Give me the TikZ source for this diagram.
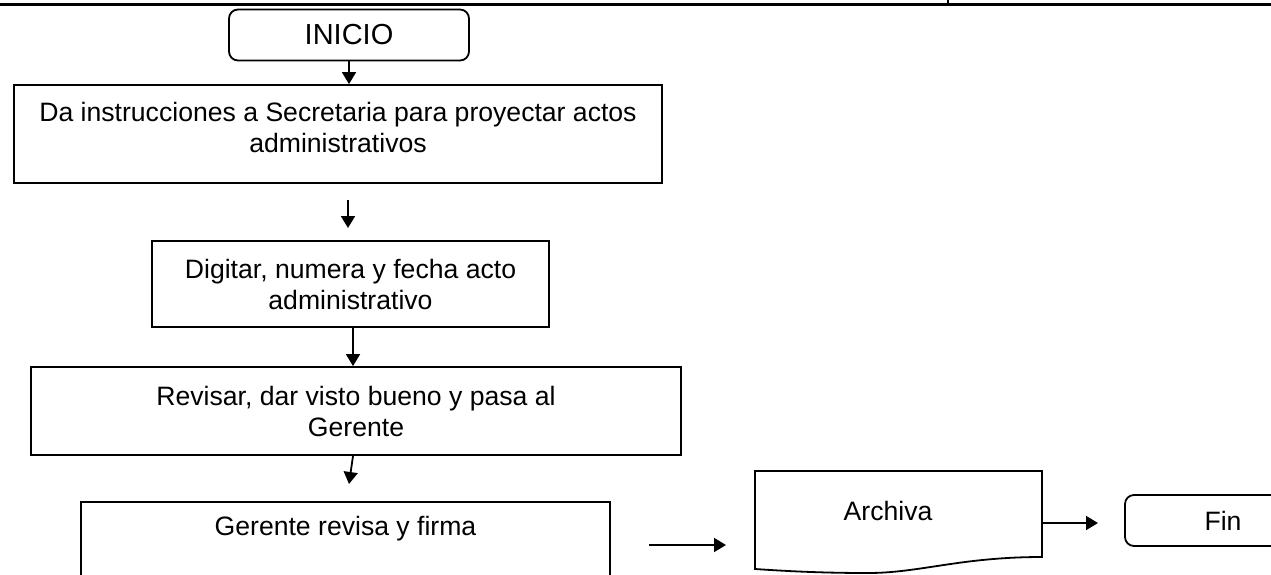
\documentclass[tikz,border=0pt]{standalone}
\usepackage{fontspec}
\setmainfont{Liberation Sans}
\usetikzlibrary{arrows.meta,positioning}
\tikzset{>={Triangle[length=12pt,width=14pt]}}
\tikzset{
  proc/.style={draw,rectangle,inner sep=0pt,align=center,font=\fontsize{26.6}{31}\selectfont},
  term/.style={proc,rounded corners=9pt},
  txt/.style={align=center,inner sep=0pt,font=\fontsize{26.6}{31}\selectfont}
}

\begin{document}
\begin{tikzpicture}[x=1pt,y=-1pt,line width=1.8pt]
		\useasboundingbox (0,0) rectangle (1271,574);
		\clip (0,0) rectangle (1271,574);
		\draw[line width=2.5pt] (0,4.4) -- (1271,4.4);% cut table rule
		\draw[line width=1.5pt] (948,0) -- (948,4.4);
		
		\node[term,minimum width=240pt,minimum height=51pt,font=\fontsize{29}{34}\selectfont] (inicio) at (349,35) {INICIO};
		\node[proc,minimum width=648pt,minimum height=98pt] (instr) at (338,134) {};
		\node[txt] (instrtxt) at (338,127.5) {Da instrucciones a Secretaria para proyectar actos\\administrativos};
		\node[proc,minimum width=397pt,minimum height=86pt] (digit) at (350.5,284) {Digitar, numera y fecha acto\\administrativo};
		\node[proc,minimum width=650pt,minimum height=88pt] (revis) at (356,411) {Revisar, dar visto bueno y pasa al\\Gerente};
		\node[proc,minimum width=529pt,minimum height=110pt] (firma) at (345.5,557) {};
		\node[txt] (firmatxt) at (345.5,529) {Gerente revisa y firma};
		
		\draw (755,471) -- (1042,471) -- (1042,557) .. controls (960,557) and (920,573) .. (868,573) .. controls (820,573) and (785,571) .. (755,569) -- cycle;% document symbol
		\node[txt] (archiva) at (888,511) {Archiva};
		\node[term,minimum width=196pt,minimum height=51pt] (fin) at (1223,520.5) {Fin};
		
		\coordinate (a2s) at (348,200);
		\coordinate (a2e) at (348,228);
		\coordinate (a4e) at (349,484);
		\coordinate (a5s) at (649,545);
		\coordinate (a5e) at (726,545);
		\coordinate (a6s) at (1042,523);
		\coordinate (a6e) at (1098,523);
		
		\draw[->] (inicio.south) -- (inicio.south |- instr.north);
		\draw[->] (a2s) -- (a2e);
		\draw[->] ([xshift=2.5pt]digit.south) -- ([xshift=2.5pt]digit.south |- revis.north);
		\draw[->] ([xshift=-3pt]revis.south) -- (a4e);
		\draw[->] (a5s) -- (a5e);
		\draw[->] (a6s) -- (a6e);
		\end{tikzpicture}
\end{document}
